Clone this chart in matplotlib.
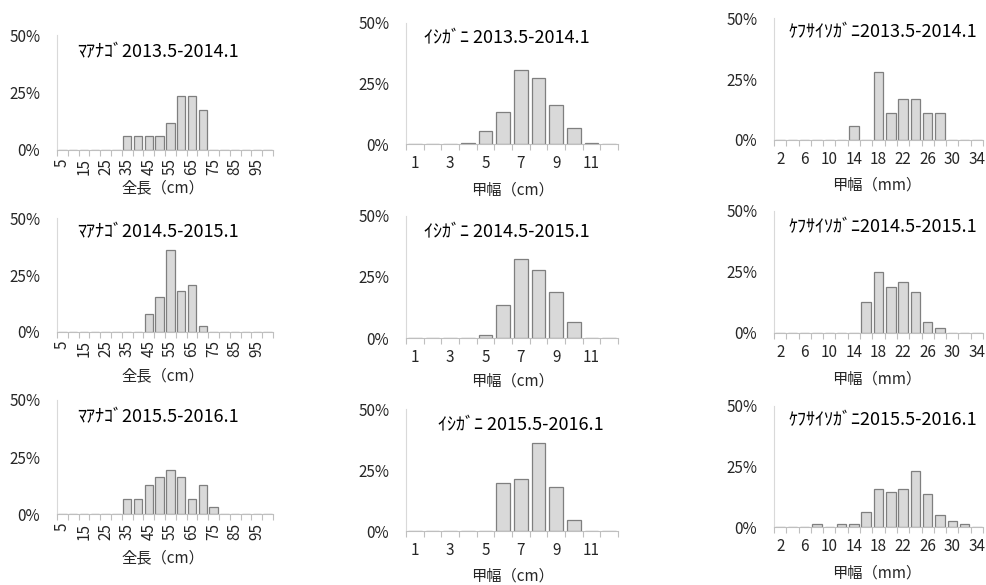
import matplotlib
matplotlib.use("Agg")
import matplotlib.pyplot as plt
import numpy as np

plt.rcParams['font.family'] = ['Noto Sans CJK JP', 'DejaVu Sans']

W, H = 987, 585

# --- data (percent) ---
anago_sizes = [5, 10, 15, 20, 25, 30, 35, 40, 45, 50, 55, 60, 65, 70, 75, 80, 85, 90, 95, 100]
anago_2013 = [0, 0, 0, 0, 0, 0, 5.9, 5.9, 5.9, 5.9, 11.8, 23.5, 23.5, 17.6, 0, 0, 0, 0, 0, 0]
anago_2014 = [0, 0, 0, 0, 0, 0, 0, 0, 7.7, 15.4, 35.9, 17.9, 20.5, 2.6, 0, 0, 0, 0, 0, 0]
anago_2015 = [0, 0, 0, 0, 0, 0, 6.5, 6.5, 12.9, 16.1, 19.4, 16.1, 6.5, 12.9, 3.2, 0, 0, 0, 0, 0]

ishigani_sizes = [1, 2, 3, 4, 5, 6, 7, 8, 9, 10, 11, 12]
ishigani_2013 = [0, 0, 0.2, 0.4, 5.5, 13.3, 30.7, 27.1, 16.3, 6.6, 0.4, 0]
ishigani_2014 = [0, 0, 0, 0, 1.5, 13.6, 32.2, 27.7, 18.9, 6.8, 0, 0]
ishigani_2015 = [0, 0, 0, 0, 0, 19.7, 21.2, 36.3, 18.2, 4.5, 0, 0]

kefusa_sizes = [2, 4, 6, 8, 10, 12, 14, 16, 18, 20, 22, 24, 26, 28, 30, 32, 34]
kefusa_2013 = [0, 0, 0, 0, 0, 0, 5.6, 0, 27.8, 11.1, 16.7, 16.7, 11.1, 11.1, 0, 0, 0]
kefusa_2014 = [0, 0, 0, 0, 0, 0, 0, 12.5, 25.0, 18.8, 20.8, 16.7, 4.2, 2.1, 0, 0, 0]
kefusa_2015 = [0, 0, 0, 1.2, 0, 1.2, 1.2, 6.3, 15.6, 14.7, 15.6, 23.2, 13.6, 4.9, 2.6, 1.2, 0]

periods = ["2013.5-2014.1", "2014.5-2015.1", "2015.5-2016.1"]

columns = [
    dict(sizes=anago_sizes, series=[anago_2013, anago_2014, anago_2015],
         name="ﾏｱﾅｺﾞ", xlabel="全長（cm）", rot=90),
    dict(sizes=ishigani_sizes, series=[ishigani_2013, ishigani_2014, ishigani_2015],
         name="ｲｼｶﾞﾆ ", xlabel="甲幅（cm）", rot=0),
    dict(sizes=kefusa_sizes, series=[kefusa_2013, kefusa_2014, kefusa_2015],
         name="ｹﾌｻｲｿｶﾞﾆ", xlabel="甲幅（mm）", rot=0),
]

# --- layout in pixels ---
col_x = [(57, 273), (406, 618), (774, 983)]
# (zero line y, 50% line y) per row, per column
row_y = [
    [(150, 35), (144.3, 22.7), (140, 18.3)],
    [(331.7, 218.3), (338.3, 215.7), (332.7, 211)],
    [(514.3, 400), (531, 409.3), (527.3, 405.7)],
]
title_pos = [
    [(77, 52), (424, 38), (789, 32)],
    [(77, 232), (424, 232), (789, 227)],
    [(77, 417), (438, 425), (789, 420)],
]
xlabel_pos = [
    [(163, 188), (512, 190), (877, 185)],
    [(163, 376), (512, 381), (877, 379)],
    [(163, 558), (512, 576), (877, 573)],
]

text_c = '#262626'
fig = plt.figure(figsize=(W / 100, H / 100), dpi=100)

for r in range(3):
    for c, col in enumerate(columns):
        l, rt = col_x[c]
        zero, top = row_y[r][c]
        ax = fig.add_axes([l / W, 1 - zero / H, (rt - l) / W, (zero - top) / H])
        vals = np.array(col["series"][r]) / 100
        n = len(col["sizes"])
        idx = np.arange(n)
        ax.bar(idx, vals, width=0.77, color='#d9d9d9', edgecolor='#7f7f7f', linewidth=0.9)
        ax.set_xlim(-0.5, n - 0.5)
        ax.set_ylim(0, 0.5)

        for s in ['top', 'right']:
            ax.spines[s].set_visible(False)
        ax.spines['left'].set_color('#d9d9d9')
        ax.spines['bottom'].set_color('#bfbfbf')

        ax.set_yticks([0, 0.25, 0.5], ['0%', '25%', '50%'])
        ax.tick_params(axis='y', length=0, pad=12, labelsize=11, labelcolor=text_c)

        ax.set_xticks(np.arange(-0.5, n, 1), [''] * (n + 1))
        ax.tick_params(axis='x', which='major', length=4, color='#bfbfbf', direction='out')
        lab_idx = idx[::2]
        ax.set_xticks(lab_idx, [str(col["sizes"][i]) for i in lab_idx], minor=True)
        if col["rot"]:
            ax.tick_params(axis='x', which='minor', length=0, pad=6, labelsize=11,
                           labelcolor=text_c, labelrotation=90)
        else:
            ax.tick_params(axis='x', which='minor', length=0, pad=8, labelsize=11,
                           labelcolor=text_c)

        tx, ty = title_pos[r][c]
        fig.text(tx / W, 1 - ty / H, col["name"] + periods[r], ha='left', va='center',
                 fontsize=13, color='black')
        lx, ly = xlabel_pos[r][c]
        fig.text(lx / W, 1 - ly / H, col["xlabel"], ha='center', va='center',
                 fontsize=11, color=text_c)

fig.savefig("out.png", dpi=100, facecolor='white')
